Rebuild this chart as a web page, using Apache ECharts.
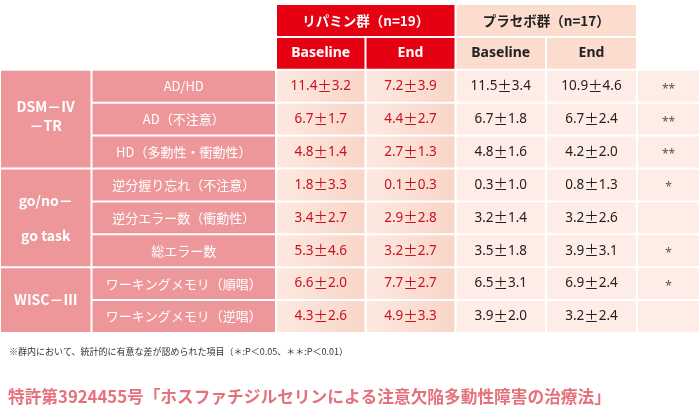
<!DOCTYPE html>
<html><head><meta charset="utf-8">
<script src="https://cdn.jsdelivr.net/npm/echarts@6/dist/echarts.min.js"></script>
<style>html,body{margin:0;padding:0;background:#fff}#c{width:700px;height:411px}</style>
</head><body><div id="c"></div>
<script>
// ---- data ----
const groupHeaders = ['リパミン群（n=19）', 'プラセボ群（n=17）'];
const timeHeaders = ['Baseline', 'End', 'Baseline', 'End'];
const domains = ['DSM－Ⅳ\n－TR', 'go/no－\ngo task', 'WISC－Ⅲ'];
const domainSizes = [3, 3, 2];
const items = ['AD/HD', 'AD（不注意）', 'HD（多動性・衝動性）', '逆分握り忘れ（不注意）', '逆分エラー数（衝動性）', '総エラー数', 'ワーキングメモリ（順唱）', 'ワーキングメモリ（逆唱）'];
const lipaBaseMean = [11.4, 6.7, 4.8, 1.8, 3.4, 5.3, 6.6, 4.3];
const lipaBaseSD   = [3.2, 1.7, 1.4, 3.3, 2.7, 4.6, 2.0, 2.6];
const lipaEndMean  = [7.2, 4.4, 2.7, 0.1, 2.9, 3.2, 7.7, 4.9];
const lipaEndSD    = [3.9, 2.7, 1.3, 0.3, 2.8, 2.7, 2.7, 3.3];
const placBaseMean = [11.5, 6.7, 4.8, 0.3, 3.2, 3.5, 6.5, 3.9];
const placBaseSD   = [3.4, 1.8, 1.6, 1.0, 1.4, 1.8, 3.1, 2.0];
const placEndMean  = [10.9, 6.7, 4.2, 0.8, 3.2, 3.9, 6.9, 3.2];
const placEndSD    = [4.6, 2.4, 2.0, 1.3, 2.6, 3.1, 2.4, 2.4];
const significance = ['**', '**', '**', '*', '', '*', '*', ''];
const footnote = '※群内において、統計的に有意な差が認められた項目（＊:P＜0.05、＊＊:P＜0.01）';
const patentTitle = '特許第3924455号「ホスファチジルセリンによる注意欠陥多動性障害の治療法」';

// ---- layout (axis units) ----
const COL_EDGES = [0, 91.5, 276, 365.5, 455.5, 546, 637, 700];
const HEADER_ROWS = 2;
const NROWS = HEADER_ROWS + items.length;

const CJK = "'Noto Sans CJK JP', 'Noto Sans', sans-serif";
const LAT = "'Noto Sans', 'Noto Sans CJK JP', sans-serif";
const PINK = '#EE979B', RED = '#E50012', PEACH_H = '#FBDCCF', PEACH = '#FDEDE6';
const redGrad = new echarts.graphic.LinearGradient(0, 0, 1, 0, [
  { offset: 0, color: '#FDE9E0' }, { offset: 1, color: '#F9D5C9' }]);

const cells = [];
function cell(c0, c1, r0, r1, text, fill, color, size, weight, family, extra) {
  cells.push(Object.assign({ c0, c1, r0, r1, text, fill, color, size, weight, family, lh: 20, dy: 0 }, extra || {}));
}
// values: rich text so the ± can be drawn larger, as in the reference
const fmt = (m, s) => '{n|' + m.toFixed(1) + '}{pm|±}{n|' + s.toFixed(1) + '}';

// headers
cell(2, 4, 0, 1, groupHeaders[0], RED, '#fff', 13.5, 'bold', CJK);
cell(4, 6, 0, 1, groupHeaders[1], PEACH_H, '#222', 13.5, 'bold', CJK);
timeHeaders.forEach((t, i) => {
  const red = i < 2;
  cell(2 + i, 3 + i, 1, 2, t, red ? RED : PEACH_H, red ? '#fff' : '#222', 14, 'bold', LAT);
});
// domains
let r = HEADER_ROWS;
domains.forEach((d, i) => {
  cell(0, 1, r, r + domainSizes[i], d, PINK, '#fff', 14, 'bold', CJK,
    { lh: i === 1 ? 35 : 19, dy: i === 0 ? -3 : 0 });
  r += domainSizes[i];
});
// items & values
items.forEach((it, i) => {
  const row = HEADER_ROWS + i;
  cell(1, 2, row, row + 1, it, PINK, '#fff', 13, 'normal', CJK);
  cell(2, 3, row, row + 1, fmt(lipaBaseMean[i], lipaBaseSD[i]), redGrad, '#C8121E', 13.5, 'normal', LAT, { rich: true });
  cell(3, 4, row, row + 1, fmt(lipaEndMean[i], lipaEndSD[i]), redGrad, '#C8121E', 13.5, 'normal', LAT, { rich: true });
  cell(4, 5, row, row + 1, fmt(placBaseMean[i], placBaseSD[i]), PEACH, '#222', 13.5, 'normal', LAT, { rich: true });
  cell(5, 6, row, row + 1, fmt(placEndMean[i], placEndSD[i]), PEACH, '#222', 13.5, 'normal', LAT, { rich: true });
  cell(6, 7, row, row + 1, significance[i], PEACH, '#555', 12, 'normal', LAT, { dy: 3 });
});

const chart = echarts.init(document.getElementById('c'), null, { renderer: 'canvas' });
chart.setOption({
  animation: false,
  backgroundColor: '#fff',
  title: [
    { text: footnote, left: 4, top: 342, textStyle: { fontSize: 9, fontWeight: 'normal', color: '#333', fontFamily: CJK } },
    { text: patentTitle, left: 3, top: 383, textStyle: { fontSize: 16.7, fontWeight: 'bold', color: '#E4717B', fontFamily: CJK } }
  ],
  grid: { left: 0, right: 0, top: 4, bottom: 78 },
  xAxis: { type: 'value', min: 0, max: 700, show: false },
  yAxis: { type: 'value', min: 0, max: NROWS, inverse: true, show: false },
  series: [{
    type: 'custom',
    data: cells.map((c, i) => [COL_EDGES[c.c0], COL_EDGES[c.c1], c.r0, c.r1, i]),
    renderItem(params, api) {
      const c = cells[api.value(4)];
      const p0 = api.coord([api.value(0), api.value(2)]);
      const p1 = api.coord([api.value(1), api.value(3)]);
      const x = p0[0] + 1, y = Math.min(p0[1], p1[1]) + 1;
      const w = Math.abs(p1[0] - p0[0]) - 2, h = Math.abs(p1[1] - p0[1]) - 2;
      const ts = { text: c.text, x: x + w / 2, y: y + h / 2 + c.dy, align: 'center', verticalAlign: 'middle',
        fill: c.color, fontSize: c.size, fontWeight: c.weight, fontFamily: c.family, lineHeight: c.lh };
      if (c.rich) {
        ts.rich = {
          n: { fontSize: c.size, fontFamily: c.family, fill: c.color, lineHeight: 18 },
          pm: { fontSize: c.size + 1, fontFamily: CJK, fill: c.color, lineHeight: 18 }
        };
      }
      return {
        type: 'group',
        children: [
          { type: 'rect', shape: { x, y, width: w, height: h }, style: { fill: c.fill } },
          { type: 'text', style: ts }
        ]
      };
    }
  }]
});
</script></body></html>
